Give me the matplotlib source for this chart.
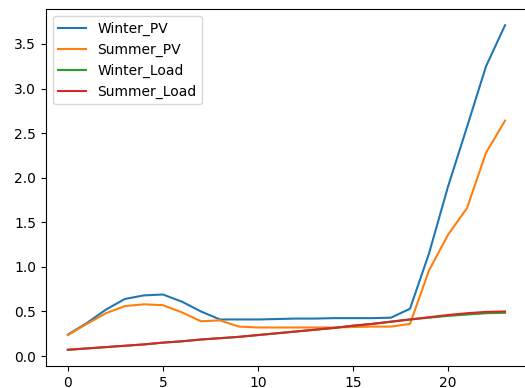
import matplotlib
matplotlib.use("Agg")
import matplotlib.pyplot as plt

hours = list(range(24))

winter_pv = [0.24, 0.37, 0.52, 0.64, 0.68, 0.69, 0.61, 0.50, 0.41, 0.41,
             0.41, 0.415, 0.42, 0.42, 0.425, 0.425, 0.425, 0.43, 0.53, 1.15,
             1.90, 2.57, 3.25, 3.71]
summer_pv = [0.235, 0.36, 0.48, 0.56, 0.58, 0.57, 0.49, 0.39, 0.40, 0.33,
             0.32, 0.32, 0.32, 0.32, 0.32, 0.325, 0.33, 0.33, 0.36, 0.96,
             1.36, 1.66, 2.28, 2.64]
winter_load = [0.07, 0.085, 0.10, 0.115, 0.13, 0.15, 0.165, 0.185, 0.20, 0.215,
               0.235, 0.255, 0.275, 0.295, 0.315, 0.34, 0.36, 0.385, 0.41, 0.43,
               0.45, 0.465, 0.48, 0.485]
summer_load = [0.07, 0.085, 0.10, 0.115, 0.13, 0.15, 0.165, 0.185, 0.20, 0.215,
               0.235, 0.255, 0.275, 0.295, 0.315, 0.34, 0.36, 0.385, 0.41, 0.435,
               0.46, 0.48, 0.495, 0.50]

fig = plt.figure(figsize=(5.25, 3.88), dpi=100)
# axes run up to the right edge, like the cropped reference
ax = fig.add_axes([0.0876, 0.0567, 0.916, 0.920])

ax.plot(hours, winter_pv, label="Winter_PV")
ax.plot(hours, summer_pv, label="Summer_PV")
ax.plot(hours, winter_load, label="Winter_Load")
ax.plot(hours, summer_load, label="Summer_Load")
ax.legend(loc="upper left")

# the right spine is cut off in the reference
ax.spines["right"].set_visible(False)

fig.savefig("out.png", dpi=100)
